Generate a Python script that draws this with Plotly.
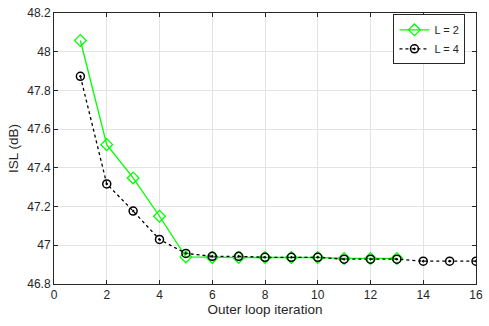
import plotly.graph_objects as go

iterations_L2 = list(range(1, 14))
isl_L2 = [48.058, 47.52, 47.348, 47.15, 46.94, 46.937, 46.937, 46.937, 46.937, 46.937, 46.932, 46.932, 46.932]
iterations_L4 = list(range(1, 17))
isl_L4 = [47.873, 47.317, 47.177, 47.03, 46.958, 46.943, 46.943, 46.938, 46.938, 46.938,
          46.928, 46.928, 46.928, 46.918, 46.918, 46.918]
x_ticks = [0, 2, 4, 6, 8, 10, 12, 14, 16]
y_ticks = [46.8, 47, 47.2, 47.4, 47.6, 47.8, 48, 48.2]
y_tick_labels = ["46.8", "47", "47.2", "47.4", "47.6", "47.8", "48", "48.2"]

FONT = "Liberation Sans, Arial, sans-serif"

fig = go.Figure()
fig.add_trace(go.Scatter(
    x=iterations_L2, y=isl_L2, name="L = 2", mode="lines+markers",
    line=dict(color="#00ff00", width=1.3),
    marker=dict(symbol="diamond-open", size=9, color="#00ff00", line=dict(width=1.3)),
))
fig.add_trace(go.Scatter(
    x=iterations_L4, y=isl_L4, name="L = 4", mode="lines+markers",
    line=dict(color="black", width=1.3, dash="dot"),
    marker=dict(symbol="circle-open-dot", size=8, color="black", line=dict(width=1.5)),
))

axis_common = dict(
    showline=True, linecolor="#262626", linewidth=1, mirror="ticks",
    ticks="inside", ticklen=4, tickcolor="#262626",
    showgrid=True, gridcolor="#e3e3e3", gridwidth=1, zeroline=False,
    tickfont=dict(family=FONT, size=12, color="#262626"),
)
fig.update_xaxes(range=[0, 16], tickvals=x_ticks,
                 title=dict(text="Outer loop iteration", standoff=3,
                            font=dict(family=FONT, size=13.5, color="#262626")),
                 **axis_common)
fig.update_yaxes(range=[46.8, 48.2], tickvals=y_ticks, ticktext=y_tick_labels,
                 title=dict(text="ISL (dB)", standoff=5,
                            font=dict(family=FONT, size=13.5, color="#262626")),
                 **axis_common)

fig.update_layout(
    width=489, height=326,
    margin=dict(l=54, r=8, t=6, b=42),
    paper_bgcolor="white", plot_bgcolor="white",
    showlegend=True,
    legend=dict(x=0.975, y=0.995, xanchor="right", yanchor="top",
                bgcolor="white", bordercolor="#262626", borderwidth=1,
                font=dict(family=FONT, size=11, color="#262626"),
                tracegroupgap=0, itemwidth=30),
)

fig.write_html("out.html", config={"displayModeBar": False},
               post_script="document.body.style.margin='0px';document.body.style.padding='0px';")
